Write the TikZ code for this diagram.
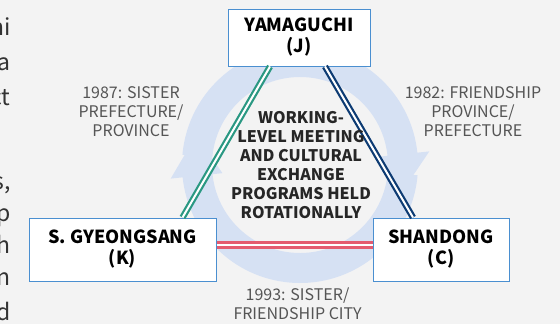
\documentclass[tikz,border=0pt]{standalone}
\usepackage{fontspec}
\setmainfont{Noto Sans CJK KR}
\definecolor{bggray}{RGB}{243,243,243}
\definecolor{ringblue}{RGB}{214,225,243}
\definecolor{boxblue}{RGB}{74,143,208}
\definecolor{tealline}{RGB}{42,152,130}
\definecolor{navyline}{RGB}{13,59,115}
\definecolor{redline}{RGB}{228,91,111}
\definecolor{labelgray}{RGB}{85,85,85}
\tikzset{
  region/.style={draw=boxblue, line width=1pt, fill=white, align=center, inner sep=0pt, text=black, font=\bfseries\fontsize{18}{21}\selectfont},
  link/.style={double=white, double distance=2pt, line width=2.2pt},
  datelabel/.style={align=center, text=labelgray, font=\fontsize{16}{19}\selectfont},
  bodyfrag/.style={anchor=base east, text=black!80, font=\fontsize{23}{28}\selectfont}
}

\begin{document}
\begin{tikzpicture}[x=1pt, y=-1pt]
\useasboundingbox (0,0) rectangle (560,324);
\clip (0,0) rectangle (560,324);
\fill[bggray] (0,0) rectangle (560,324);

\node[bodyfrag] (f1) at (14,35) {hi};
\node[bodyfrag] (f2) at (14,70) {a};
\node[bodyfrag] (f3) at (14,105) {ct};
\node[bodyfrag] (f4) at (14,189) {s,};
\node[bodyfrag] (f5) at (14,221) {p};
\node[bodyfrag] (f6) at (14,253) {h};
\node[bodyfrag] (f7) at (14,285) {n};
\node[bodyfrag] (f8) at (14,320) {d};

\begin{scope}[shift={(300,165)}]
\fill[ringblue] (185:118) arc[start angle=185, end angle=354, radius=118] -- (354:130) -- (14:106) -- (354:78) -- (354:88) arc[start angle=354, end angle=185, radius=88] -- cycle;
\fill[ringblue] (5:118) arc[start angle=5, end angle=174, radius=118] -- (174:130) -- (196:108) -- (174:78) -- (174:88) arc[start angle=174, end angle=5, radius=88] -- cycle;
\end{scope}

\node[region, minimum width=142pt, minimum height=57pt] (yam) at (299,37.5) {YAMAGUCHI\\(J)};
\node[region, minimum width=187pt, minimum height=63pt] (sg) at (122.5,249.5) {S. GYEONGSANG\\(K)};
\node[region, minimum width=136pt, minimum height=63pt] (sd) at (441,249.5) {SHANDONG\\(C)};

\draw[link, tealline] ([xshift=-29pt]yam.south) -- ([xshift=60pt]sg.north);
\draw[link, navyline] ([xshift=26pt]yam.south) -- ([xshift=-28pt]sd.north);
\draw[link, redline, line width=3pt] ([yshift=5pt]sg.east) -- ([yshift=5pt]sd.west);

\node[align=center, text=black!85, font=\bfseries\fontsize{16}{19}\selectfont] (centre) at (301,165.5) {WORKING-\\LEVEL MEETING\\AND CULTURAL\\EXCHANGE\\PROGRAMS HELD\\ROTATIONALLY};
\node[datelabel] (jk) at (131,112) {1987: SISTER\\PREFECTURE/\\PROVINCE};
\node[datelabel] (jc) at (473,112) {1982: FRIENDSHIP\\PROVINCE/\\PREFECTURE};
\node[datelabel] (kc) at (297.5,304) {1993: SISTER/\\FRIENDSHIP CITY};
\end{tikzpicture}
\end{document}
